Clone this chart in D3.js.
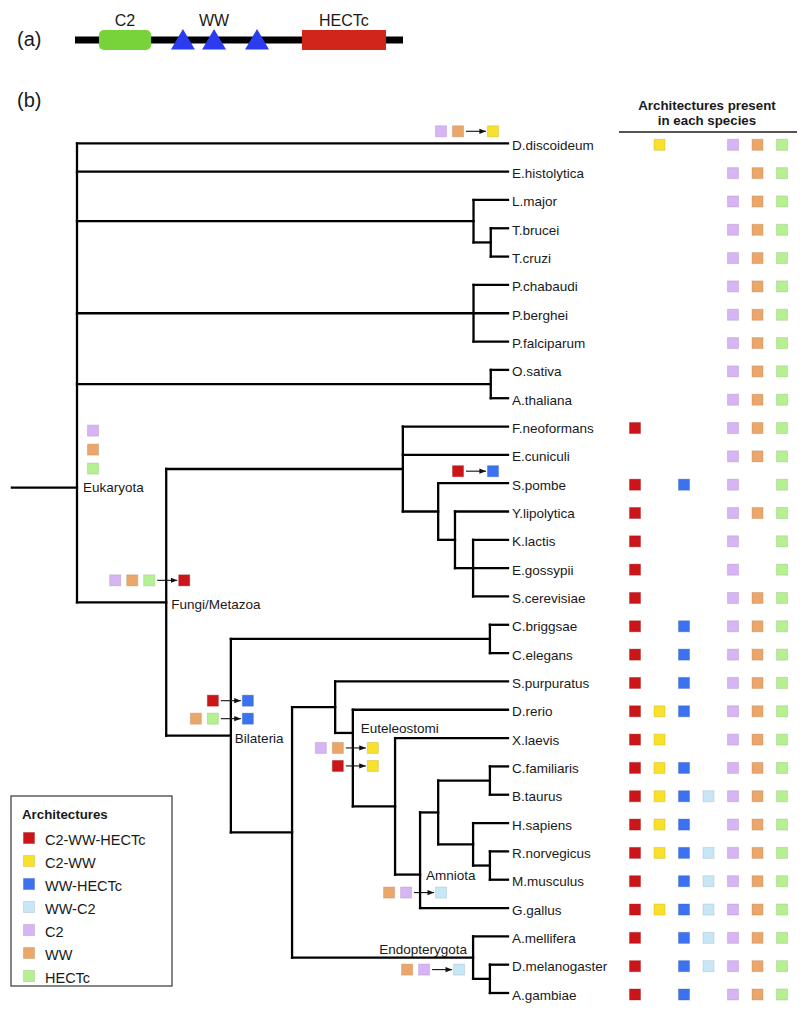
<!DOCTYPE html>
<html><head><meta charset="utf-8">
<script src="https://cdn.jsdelivr.net/npm/d3@7"></script>
<style>
body{margin:0;background:#fff}
svg{display:block}
text{font-family:"Liberation Sans",Arial,Helvetica,sans-serif;fill:#1a1a1a}
</style>
</head><body>
<svg id="chart" width="800" height="1012"></svg>
<script>
// ---------------- DATA ----------------
const architectures = ["C2-WW-HECTc","C2-WW","WW-HECTc","WW-C2","C2","WW","HECTc"];

const speciesNames = ["D.discoideum","E.histolytica","L.major","T.brucei","T.cruzi","P.chabaudi","P.berghei",
  "P.falciparum","O.sativa","A.thaliana","F.neoformans","E.cuniculi","S.pombe","Y.lipolytica","K.lactis",
  "E.gossypii","S.cerevisiae","C.briggsae","C.elegans","S.purpuratus","D.rerio","X.laevis","C.familiaris",
  "B.taurus","H.sapiens","R.norvegicus","M.musculus","G.gallus","A.mellifera","D.melanogaster","A.gambiae"];

// architectures present in each species (same order as speciesNames)
const presence = [
  ["C2-WW","C2","WW","HECTc"],
  ["C2","WW","HECTc"],
  ["C2","WW","HECTc"],
  ["C2","WW","HECTc"],
  ["C2","WW","HECTc"],
  ["C2","WW","HECTc"],
  ["C2","WW","HECTc"],
  ["C2","WW","HECTc"],
  ["C2","WW","HECTc"],
  ["C2","WW","HECTc"],
  ["C2-WW-HECTc","C2","WW","HECTc"],
  ["C2","WW","HECTc"],
  ["C2-WW-HECTc","WW-HECTc","C2","HECTc"],
  ["C2-WW-HECTc","C2","WW","HECTc"],
  ["C2-WW-HECTc","C2","HECTc"],
  ["C2-WW-HECTc","C2","HECTc"],
  ["C2-WW-HECTc","C2","WW","HECTc"],
  ["C2-WW-HECTc","WW-HECTc","C2","WW","HECTc"],
  ["C2-WW-HECTc","WW-HECTc","C2","WW","HECTc"],
  ["C2-WW-HECTc","WW-HECTc","C2","WW","HECTc"],
  ["C2-WW-HECTc","C2-WW","WW-HECTc","C2","WW","HECTc"],
  ["C2-WW-HECTc","C2-WW","C2","WW","HECTc"],
  ["C2-WW-HECTc","C2-WW","WW-HECTc","C2","WW","HECTc"],
  ["C2-WW-HECTc","C2-WW","WW-HECTc","WW-C2","C2","WW","HECTc"],
  ["C2-WW-HECTc","C2-WW","WW-HECTc","C2","WW","HECTc"],
  ["C2-WW-HECTc","C2-WW","WW-HECTc","WW-C2","C2","WW","HECTc"],
  ["C2-WW-HECTc","WW-HECTc","WW-C2","C2","WW","HECTc"],
  ["C2-WW-HECTc","C2-WW","WW-HECTc","WW-C2","C2","WW","HECTc"],
  ["C2-WW-HECTc","WW-HECTc","WW-C2","C2","WW","HECTc"],
  ["C2-WW-HECTc","WW-HECTc","WW-C2","C2","WW","HECTc"],
  ["C2-WW-HECTc","WW-HECTc","C2","WW","HECTc"]
];

// tree: [id, parent, relative depth (leaves = 1), attachment fraction along children span]
const treeNodes = [
  ["Eukaryota","",0,0.75],
  ["D.discoideum","Eukaryota"],
  ["E.histolytica","Eukaryota"],
  ["Kinetoplastida","Eukaryota",0.92],
  ["L.major","Kinetoplastida"],
  ["Trypanosoma","Kinetoplastida",0.96],
  ["T.brucei","Trypanosoma"],
  ["T.cruzi","Trypanosoma"],
  ["Plasmodium","Eukaryota",0.92],
  ["P.chabaudi","Plasmodium"],
  ["P.berghei","Plasmodium"],
  ["P.falciparum","Plasmodium"],
  ["Plants","Eukaryota",0.96],
  ["O.sativa","Plants"],
  ["A.thaliana","Plants"],
  ["Fungi/Metazoa","Eukaryota",0.207],
  ["Fungi","Fungi/Metazoa",0.756],
  ["F.neoformans","Fungi"],
  ["E.cuniculi","Fungi"],
  ["Ascomycota","Fungi",0.838],
  ["S.pombe","Ascomycota"],
  ["Saccharomycotina","Ascomycota",0.877],
  ["Y.lipolytica","Saccharomycotina"],
  ["Saccharomycetaceae","Saccharomycotina",0.919],
  ["K.lactis","Saccharomycetaceae"],
  ["E.gossypii","Saccharomycetaceae"],
  ["S.cerevisiae","Saccharomycetaceae"],
  ["Bilateria","Fungi/Metazoa",0.357],
  ["Nematoda","Bilateria",0.958],
  ["C.briggsae","Nematoda"],
  ["C.elegans","Nematoda"],
  ["Coelomata","Bilateria",0.499],
  ["Deuterostomia","Coelomata",0.599],
  ["S.purpuratus","Deuterostomia"],
  ["Euteleostomi","Deuterostomia",0.640,0.24],
  ["D.rerio","Euteleostomi"],
  ["Tetrapoda","Euteleostomi",0.738],
  ["X.laevis","Tetrapoda"],
  ["Amniota","Tetrapoda",0.796,0.65],
  ["Mammalia","Amniota",0.838],
  ["Laurasiatheria","Mammalia",0.958],
  ["C.familiaris","Laurasiatheria"],
  ["B.taurus","Laurasiatheria"],
  ["Euarchontoglires","Mammalia",0.919],
  ["H.sapiens","Euarchontoglires"],
  ["Rodentia","Euarchontoglires",0.958],
  ["R.norvegicus","Rodentia"],
  ["M.musculus","Rodentia"],
  ["G.gallus","Amniota"],
  ["Endopterygota","Coelomata",0.919],
  ["A.mellifera","Endopterygota"],
  ["Diptera","Endopterygota",0.958],
  ["D.melanogaster","Diptera"],
  ["A.gambiae","Diptera"]
];
const rootStemDepth = -0.151;

// labelled internal nodes
const cladeLabels = ["Eukaryota","Fungi/Metazoa","Bilateria","Euteleostomi","Amniota","Endopterygota"];

// evolutionary events on branches
const gains = [{node:"Eukaryota", archs:["C2","WW","HECTc"]}];
const events = [
  {node:"D.discoideum", from:["C2","WW"], to:"C2-WW"},
  {node:"Fungi/Metazoa", from:["C2","WW","HECTc"], to:"C2-WW-HECTc"},
  {node:"S.pombe", from:["C2-WW-HECTc"], to:"WW-HECTc"},
  {node:"Bilateria", from:["C2-WW-HECTc"], to:"WW-HECTc"},
  {node:"Bilateria", from:["WW","HECTc"], to:"WW-HECTc"},
  {node:"Euteleostomi", from:["C2","WW"], to:"C2-WW"},
  {node:"Euteleostomi", from:["C2-WW-HECTc"], to:"C2-WW"},
  {node:"Amniota", from:["WW","C2"], to:"WW-C2"},
  {node:"Endopterygota", from:["WW","C2"], to:"WW-C2"}
];

// panel (a): domain architecture along a protein of arbitrary length
const proteinLength = 1000;
const boxDomains = [{name:"C2", start:73, end:232}, {name:"HECTc", start:692, end:948}];
const wwDomains = [329, 424, 555];

// ---------------- STYLE / LAYOUT ----------------
const color = d3.scaleOrdinal().domain(architectures)
  .range(["#cc1518","#f8e02b","#3c72ef","#c7e7f6","#d7b4f3","#eba76b","#b5f190"]);

const svg = d3.select("#chart");
const defs = svg.append("defs");
defs.append("marker").attr("id","arr").attr("viewBox","0 0 8 8").attr("refX",8).attr("refY",4)
  .attr("markerWidth",6).attr("markerHeight",6).attr("orient","auto")
  .append("path").attr("d","M0,0.8 L8,4 L0,7.2 Z").attr("fill","#111");

function sq(g, cx, cy, arch, s=11) {
  const c = color(arch);
  g.append("rect").attr("x",cx-s/2).attr("y",cy-s/2).attr("width",s).attr("height",s)
    .attr("fill",c).attr("stroke",d3.color(c).darker(0.8)).attr("stroke-opacity",0.35).attr("stroke-width",1);
}

// ---- panel (a)
const pa = svg.append("g");
pa.append("text").attr("x",17).attr("y",46).attr("font-size",20).text("(a)");
const dx = d3.scaleLinear().domain([0, proteinLength]).range([75, 403]);
pa.append("line").attr("x1",dx(0)).attr("x2",dx(proteinLength)).attr("y1",40).attr("y2",40)
  .attr("stroke","#000").attr("stroke-width",7);
const domColor = {"C2":"#78d23a","HECTc":"#d1241b","WW":"#2b3cf0"};
boxDomains.forEach(d=>{
  pa.append("rect").attr("x",dx(d.start)).attr("y",30).attr("width",dx(d.end)-dx(d.start)).attr("height",20)
    .attr("rx",d.name==="C2"?5:0).attr("fill",domColor[d.name]);
  pa.append("text").attr("x",(dx(d.start)+dx(d.end))/2).attr("y",26).attr("text-anchor","middle")
    .attr("font-size",16).text(d.name);
});
const triHalf = dx(36.5)-dx(0);
wwDomains.forEach(c=>{
  const cx = dx(c);
  pa.append("path").attr("d",`M${cx-triHalf},49.5 L${cx},29 L${cx+triHalf},49.5 Z`).attr("fill",domColor.WW);
});
pa.append("text").attr("x",dx(wwDomains[1])).attr("y",26).attr("text-anchor","middle").attr("font-size",16).text("WW");

// ---- panel (b)
svg.append("text").attr("x",17).attr("y",107).attr("font-size",20).text("(b)");

const table = treeNodes.map(([id,parent,depth,attach])=>({id,parent,depth:depth===undefined?1:depth,attach}));
const root = d3.stratify().id(d=>d.id).parentId(d=>d.parent||null)(table);
const x = d3.scaleLinear().domain([0,1]).range([77,508]);
const y = d3.scaleLinear().domain([0,speciesNames.length-1]).range([143.3,993]);
root.eachAfter(n=>{
  n.px = x(n.data.depth);
  if (!n.children) n.py = y(speciesNames.indexOf(n.id));
  else {
    const a = n.children[0].py, b = n.children[n.children.length-1].py;
    const t = n.data.attach===undefined?0.5:n.data.attach;
    n.py = a+(b-a)*t;
  }
});
const byId = new Map(root.descendants().map(n=>[n.id,n]));

const gT = svg.append("g").attr("stroke","#000").attr("stroke-width",2.3).attr("stroke-linecap","square").attr("fill","none");
root.descendants().filter(n=>n.children).forEach(n=>{
  const a = n.children[0].py, b = n.children[n.children.length-1].py;
  gT.append("line").attr("x1",n.px).attr("x2",n.px).attr("y1",a).attr("y2",b);
  n.children.forEach(c=>gT.append("line").attr("x1",n.px).attr("x2",c.px).attr("y1",c.py).attr("y2",c.py));
});
gT.append("line").attr("x1",x(rootStemDepth)).attr("x2",root.px).attr("y1",root.py).attr("y2",root.py);

// leaf labels
const gL = svg.append("g").attr("font-size",13.5);
root.leaves().forEach(l=>{
  gL.append("text").attr("x",l.px+4).attr("y",l.py+2).attr("dominant-baseline","central").text(l.id);
});

// clade labels (placement offsets relative to node)
const labelOffset = {"Eukaryota":[6,0,"start"],"Fungi/Metazoa":[5,2,"start"],"Bilateria":[4,3,"start"],
  "Euteleostomi":[8,-4,"start"],"Amniota":[6,1,"start"],"Endopterygota":[-6,-8,"end"]};
cladeLabels.forEach(id=>{
  const n = byId.get(id), o = labelOffset[id];
  gL.append("text").attr("x",n.px+o[0]).attr("y",n.py+o[1]).attr("dominant-baseline","central")
    .attr("text-anchor",o[2]).text(id);
});

// gains
const gE = svg.append("g");
gains.forEach(g=>{
  const n = byId.get(g.node);
  g.archs.forEach((a,i)=>sq(gE, n.px+16, n.py-57+i*19, a));
});

// events (target-square offsets relative to node)
const eventOffset = {"D.discoideum":[[-15,-12]],"Fungi/Metazoa":[[18,-22]],"S.pombe":[[-15,-12]],
  "Bilateria":[[17,-35],[17,-17]],"Euteleostomi":[[20,15],[20,33]],"Amniota":[[21,18]],"Endopterygota":[[-14,12]]};
const seen = {};
events.forEach(e=>{
  const n = byId.get(e.node);
  const k = seen[e.node] = (seen[e.node]||0)+1;
  const o = eventOffset[e.node][k-1];
  const tx = n.px+o[0], ty = n.py+o[1];
  sq(gE, tx, ty, e.to);
  const lastX = tx-35;
  e.from.forEach((a,i)=>sq(gE, lastX-(e.from.length-1-i)*17, ty, a));
  gE.append("line").attr("x1",lastX+8).attr("x2",tx-7).attr("y1",ty).attr("y2",ty)
    .attr("stroke","#111").attr("stroke-width",1.1).attr("marker-end","url(#arr)");
});

// presence matrix
const col = d3.scalePoint().domain(architectures).range([635,782]);
const gM = svg.append("g");
presence.forEach((archs,i)=>{
  archs.forEach(a=>sq(gM, col(a), y(i)+1.5, a));
});
const gH = svg.append("g").attr("font-size",13.3).attr("font-weight","bold").attr("text-anchor","middle");
gH.append("text").attr("x",707).attr("y",110).text("Architectures present");
gH.append("text").attr("x",707).attr("y",125).text("in each species");
svg.append("line").attr("x1",619).attr("x2",797).attr("y1",132).attr("y2",132).attr("stroke","#555").attr("stroke-width",2);

// legend
const gLeg = svg.append("g");
gLeg.append("rect").attr("x",11).attr("y",796).attr("width",161).attr("height",190)
  .attr("fill","#fff").attr("stroke","#444").attr("stroke-width",1.3);
gLeg.append("text").attr("x",22).attr("y",819).attr("font-size",13.3).attr("font-weight","bold").text("Architectures");
architectures.forEach((a,i)=>{
  const yy = 839 + i*23;
  sq(gLeg, 29, yy-1, a);
  gLeg.append("text").attr("x",45).attr("y",yy+1).attr("dominant-baseline","central").attr("font-size",14.5).text(a);
});
</script>
</body></html>
